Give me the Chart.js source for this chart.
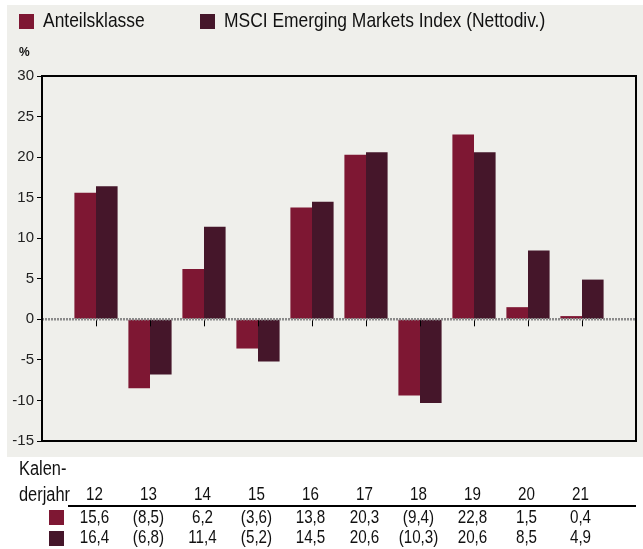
<!DOCTYPE html>
<html>
<head>
<meta charset="utf-8">
<script src="https://cdn.jsdelivr.net/npm/chart.js@4.4.1/dist/chart.umd.min.js"></script>
<style>
  html, body { margin: 0; padding: 0; background: #fff; }
  #wrap { width: 643px; height: 549px; position: relative; }
</style>
</head>
<body>
<div id="wrap"><canvas id="chart"></canvas></div>
<script>
var years = ["12", "13", "14", "15", "16", "17", "18", "19", "20", "21"];
var fundValues = [15.6, -8.5, 6.2, -3.6, 13.8, 20.3, -9.4, 22.8, 1.5, 0.4];
var indexValues = [16.4, -6.8, 11.4, -5.2, 14.5, 20.6, -10.3, 20.6, 8.5, 4.9];
var seriesNames = ["Anteilsklasse", "MSCI Emerging Markets Index (Nettodiv.)"];
var seriesColors = ["#7e1733", "#45162a"];

var FONT = '"Liberation Sans", Arial, sans-serif';

function toPoints(values) {
  return values.map(function (v, i) {
    return { x: i, y: v };
  });
}

function fmt(v) {
  var s = Math.abs(v).toFixed(1).replace(".", ",");
  return v < 0 ? "(" + s + ")" : s;
}

// narrow text: squeeze horizontally like Arial Narrow
function narrowText(c, text, x, y, size, sx, align) {
  c.save();
  c.font = size + "px " + FONT;
  c.textAlign = align;
  c.translate(x, y);
  c.scale(sx, 1);
  c.fillText(text, 0, 0);
  c.restore();
}

var decor = {
  id: "decor",
  beforeDraw: function (chart) {
    var c = chart.ctx;
    c.save();
    c.fillStyle = "#efefeb";
    c.fillRect(7, 5, 636, 452);
    c.restore();
  },
  afterDatasetsDraw: function (chart) {
    var c = chart.ctx;
    var a = chart.chartArea;
    var x = chart.scales.x;
    var y = chart.scales.y;
    var y0 = y.getPixelForValue(0);
    c.save();
    // zero line
    c.strokeStyle = "#8a8a8a";
    c.lineWidth = 2.5;
    c.setLineDash([2, 1]);
    c.beginPath();
    c.moveTo(a.left, y0);
    c.lineTo(a.right, y0);
    c.stroke();
    c.setLineDash([]);
    // category ticks under zero line
    c.strokeStyle = "#000";
    c.lineWidth = 1;
    years.forEach(function (yr, i) {
      var px = Math.round(x.getPixelForValue(i)) + 0.5;
      c.beginPath();
      c.moveTo(px, y0 + 1);
      c.lineTo(px, y0 + 7);
      c.stroke();
    });
    // frame
    c.strokeStyle = "#000";
    c.lineWidth = 2;
    c.strokeRect(a.left, a.top, a.right - a.left, a.bottom - a.top);
    c.restore();
  },
  afterDraw: function (chart) {
    var c = chart.ctx;
    var x = chart.scales.x;
    c.save();
    c.textBaseline = "middle";
    c.fillStyle = "#111";
    // legend
    var legendX = [19, 200];
    seriesNames.forEach(function (name, i) {
      c.fillStyle = seriesColors[i];
      c.fillRect(legendX[i], 14, 15, 15);
      c.fillStyle = "#111";
      narrowText(c, name, legendX[i] + 24, 21, 21, 0.83, "left");
    });
    // unit
    c.font = "bold 12px " + FONT;
    c.textAlign = "left";
    c.fillText("%", 19, 53);
    // table
    narrowText(c, "Kalen-", 19, 469, 20, 0.82, "left");
    narrowText(c, "derjahr", 19, 495, 20, 0.82, "left");
    years.forEach(function (yr, i) {
      var px = x.getPixelForValue(i) - 1.5;
      narrowText(c, yr, px, 495, 19, 0.8, "center");
      narrowText(c, fmt(fundValues[i]), px, 518, 19, 0.8, "center");
      narrowText(c, fmt(indexValues[i]), px, 538, 19, 0.8, "center");
    });
    c.strokeStyle = "#000";
    c.lineWidth = 2;
    c.beginPath();
    c.moveTo(68, 506);
    c.lineTo(636, 506);
    c.stroke();
    c.fillStyle = seriesColors[0];
    c.fillRect(49, 510, 15, 15);
    c.fillStyle = seriesColors[1];
    c.fillRect(49, 531, 15, 15);
    c.restore();
  }
};

var ctx = document.getElementById("chart").getContext("2d");

var chart = new Chart(ctx, {
  type: "bar",
  data: {
    datasets: [
      {
        label: seriesNames[0],
        data: toPoints(fundValues),
        backgroundColor: seriesColors[0],
        categoryPercentage: 0.8,
        barPercentage: 1.0,
      },
      {
        label: seriesNames[1],
        data: toPoints(indexValues),
        backgroundColor: seriesColors[1],
        categoryPercentage: 0.8,
        barPercentage: 1.0,
      },
    ],
  },
  options: {
    responsive: true,
    maintainAspectRatio: false,
    animation: false,
    layout: { padding: { left: 0, right: 7, top: 76, bottom: 108 } },
    plugins: {
      legend: { display: false },
      tooltip: { enabled: false },
    },
    scales: {
      x: {
        type: "linear",
        offset: false,
        min: -1,
        max: 10,
        ticks: { display: false },
        grid: { display: false, offset: false },
        border: { display: false },
        afterFit: function (s) {
          s.height = 0;
        },
      },
      y: {
        min: -15,
        max: 30,
        ticks: {
          stepSize: 5,
          color: "#222",
          padding: 3,
          font: { family: FONT, size: 15 },
        },
        grid: {
          drawOnChartArea: false,
          drawTicks: true,
          tickLength: 5,
          color: "#000",
        },
        border: { color: "#000", width: 2 },
        afterFit: function (s) {
          s.width = 42;
        },
      },
    },
  },
  plugins: [decor],
});
</script>
</body>
</html>
